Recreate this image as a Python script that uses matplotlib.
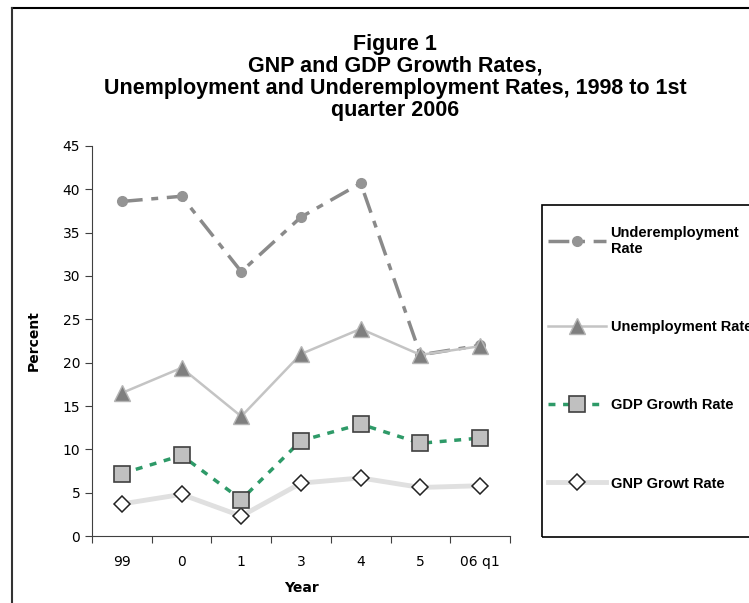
import matplotlib
matplotlib.use("Agg")
import matplotlib.pyplot as plt
from matplotlib.lines import Line2D
from matplotlib.patches import Rectangle

years = ["99", "0", "1", "3", "4", "5", "06 q1"]
underemployment = [38.6, 39.2, 30.5, 36.8, 40.7, 20.9, 22.0]
unemployment = [16.5, 19.4, 13.8, 21.0, 23.9, 20.9, 21.9]
gdp_growth = [7.2, 9.3, 4.2, 11.0, 12.9, 10.7, 11.3]
gnp_growth = [3.7, 4.8, 2.3, 6.1, 6.7, 5.6, 5.8]

fig = plt.figure(figsize=(7.49, 6.03), dpi=100)
W, H = 749, 603
ax = fig.add_axes([92 / W, (H - 536) / H, (510 - 92) / W, (536 - 146) / H])

x = list(range(len(years)))

ax.plot(x, underemployment, color="#8a8a8a", lw=2.5, dashes=(6, 2.5, 2, 2.5),
        marker="o", ms=7, mfc="#949494", mec="#949494", label="Underemployment\nRate", zorder=3)
ax.plot(x, unemployment, color="#c4c4c4", lw=1.8, marker="^", ms=11,
        mfc="#7f7f7f", mec="#b5b5b5", label="Unemployment Rate", zorder=3)
ax.plot(x, gdp_growth, color="#2e9a68", lw=2.5, dashes=(2, 2.2),
        marker="s", ms=12, mfc="#c0c0c0", mec="#404040", mew=1.2,
        label="GDP Growth Rate", zorder=4)
ax.plot(x, gnp_growth, color="#e0e0e0", lw=3.5, marker="D", ms=8,
        mfc="white", mec="#222222", mew=1.1, label="GNP Growt Rate", zorder=3)

ax.set_xlim(-0.5, len(years) - 0.5)
ax.set_ylim(0, 45)
ax.set_yticks(range(0, 46, 5))
ax.set_xticks([i - 0.5 for i in range(len(years) + 1)])
ax.set_xticklabels([])
ax.set_xticks(x, minor=True)
ax.set_xticklabels(years, minor=True)
ax.tick_params(axis="x", which="major", direction="out", length=5, color="#404040")
ax.tick_params(axis="x", which="minor", length=0, pad=14, labelsize=10)
ax.tick_params(axis="y", direction="out", length=5, labelsize=10, color="#404040")
for s in ["top", "right"]:
    ax.spines[s].set_visible(False)
for s in ["left", "bottom"]:
    ax.spines[s].set_color("#404040")

ax.set_ylabel("Percent", fontweight="bold", fontsize=10, labelpad=16)
ax.set_xlabel("Year", fontweight="bold", fontsize=10, labelpad=8)

fig.suptitle("Figure 1\nGNP and GDP Growth Rates,\nUnemployment and Underemployment Rates, 1998 to 1st\nquarter 2006",
             x=395 / W, y=1 - 34 / H, va="top", fontsize=15.5, fontweight="bold",
             family="Liberation Sans", linespacing=1.06)

# legend frame
fig.patches.append(Rectangle((542 / W, (H - 537) / H), 230 / W, (537 - 205) / H,
                             transform=fig.transFigure, fill=False, ec="black", lw=1.2))
fig.legend(loc="upper left", bbox_to_anchor=(542 / W, 1 - 220 / H), frameon=False,
           prop={"family": "Liberation Sans", "weight": "bold", "size": 10.5},
           handlelength=4, handletextpad=0.3, labelspacing=4.4, borderaxespad=0)

# outer border lines (top and left)
fig.add_artist(Line2D([12 / W, 1], [1 - 8 / H, 1 - 8 / H], transform=fig.transFigure, color="black", lw=1.5))
fig.add_artist(Line2D([12 / W, 12 / W], [0, 1 - 8 / H], transform=fig.transFigure, color="#333333", lw=1.5))

fig.savefig("out.png", dpi=100)
